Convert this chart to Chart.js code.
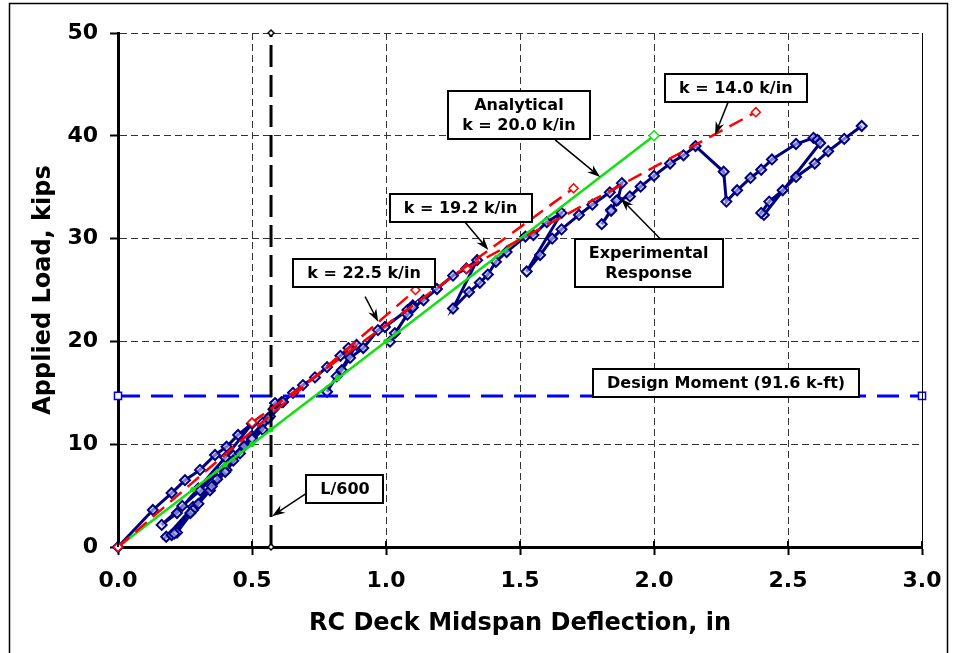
<!DOCTYPE html>
<html>
<head>
<meta charset="utf-8">
<script src="https://cdn.jsdelivr.net/npm/chart.js@4.4.0/dist/chart.umd.min.js"></script>
<style>
  html, body { margin: 0; padding: 0; background: #fff; }
  #wrap { width: 956px; height: 653px; position: relative; }
</style>
</head>
<body>
<div id="wrap"><canvas id="mycanvas"></canvas></div>
<script>
// experimental response (midspan deflection, in / applied load, kips)
var expDeflection = [
    0, 0.13, 0.20, 0.25, 0.306, 0.362, 0.405, 0.448, 0.50,
    0.40, 0.30, 0.22, 0.163,
    0.24, 0.306, 0.37, 0.43, 0.50, 0.54, 0.58,
    0.47, 0.37, 0.28, 0.18,
    0.20, 0.28, 0.343, 0.405, 0.455, 0.50, 0.54, 0.567, 0.61,
    0.50, 0.40, 0.30, 0.22, 0.21,
    0.27, 0.35, 0.43, 0.50, 0.56, 0.586, 0.616, 0.653, 0.69, 0.735, 0.78, 0.83, 0.86, 0.89,
    0.78,
    0.816, 0.835, 0.866, 0.915, 0.97, 0.996, 1.08, 1.10,
    1.015,
    1.033, 1.08, 1.10, 1.14, 1.19, 1.25, 1.30, 1.34,
    1.25,
    1.31, 1.35, 1.38, 1.41, 1.45, 1.52, 1.55, 1.60, 1.655,
    1.525,
    1.575, 1.62, 1.655, 1.72, 1.77, 1.835, 1.88, 1.865, 1.84, 1.805,
    1.84, 1.86, 1.91, 1.95, 2.0, 2.06, 2.11, 2.155,
    2.26, 2.27,
    2.31, 2.36, 2.40, 2.44, 2.53, 2.595, 2.61, 2.62,
    2.41, 2.40,
    2.43, 2.48, 2.53, 2.60, 2.65, 2.71, 2.775
];
var expLoad = [
    0, 3.6, 5.25, 6.5, 7.5, 8.95, 9.75, 10.9, 12.0,
    8.7, 5.7, 3.3, 2.15,
    4.0, 5.5, 7.3, 8.9, 10.8, 12.1, 13.4,
    9.8, 6.6, 3.9, 1.0,
    1.17, 3.6, 5.5, 7.5, 9.1, 10.4, 11.4, 12.7, 14.1,
    10.6, 7.3, 4.2, 1.4, 1.3,
    3.3, 5.9, 8.4, 10.5, 12.5, 14.0, 14.1, 15.0, 15.75, 16.5, 17.5, 18.6, 19.35, 19.65,
    15.1,
    16.6, 17.2, 18.4, 19.35, 21.1, 21.4, 23.05, 23.5,
    19.97,
    20.8, 22.6, 23.3, 24.0, 25.1, 26.4, 27.1, 27.9,
    23.2,
    24.8, 25.7, 26.5, 27.75, 28.7, 30.2, 30.35, 31.6, 32.5,
    26.8,
    28.4, 30.0, 30.9, 32.3, 33.3, 34.5, 35.4, 33.75, 32.8, 31.4,
    32.7, 33.7, 34.1, 35.05, 36.1, 37.3, 38.1, 39.0,
    36.5, 33.6,
    34.7, 35.9, 36.7, 37.7, 39.2, 39.8, 39.6, 39.3,
    32.3, 32.5,
    33.6, 34.7, 36.0, 37.3, 38.5, 39.7, 40.95
];

// analytical stiffness, k = 20.0 k/in
var analyticalDeflection = [0, 0.28, 0.40, 0.50, 0.57, 0.82, 1.0, 2.0];
var analyticalLoad = [0, 5.6, 8.0, 10.0, 11.4, 16.4, 20.0, 40.0];

// measured secant stiffness lines
var k225Deflection = [0, 1.11];
var k225Load = [0, 25.0];
var k192Deflection = [0.50, 1.70];
var k192Load = [12.1, 34.9];
var k140Deflection = [1.30, 2.38];
var k140Load = [27.1, 42.3];

// design moment load and L/600 deflection limit
var designDeflection = [0, 3.0];
var designLoad = [14.7, 14.7];
var limitDeflection = [0.571, 0.571];
var limitLoad = [0, 50];

var xTicks = [0, 0.5, 1.0, 1.5, 2.0, 2.5, 3.0];
var yTicks = [0, 10, 20, 30, 40, 50];

function pairs(xs, ys) {
    var out = [];
    for (var i in xs) {
        out.push({ x: xs[i], y: ys[i] });
    }
    return out;
}

// callout boxes, placed in data units
var notes = [
    { text: ['Analytical', 'k = 20.0 k/in'], at: [1.496, 42.07], from: [1.631, 39.6], to: [1.799, 36.0] },
    { text: ['k = 14.0 k/in'], at: [2.305, 44.65], from: [2.277, 43.3], to: [2.228, 40.1] },
    { text: ['k = 19.2 k/in'], at: [1.278, 32.98], from: [1.295, 31.6], to: [1.382, 28.9] },
    { text: ['k = 22.5 k/in'], at: [0.918, 26.65], from: [0.922, 24.35], to: [0.971, 21.9] },
    { text: ['Experimental', 'Response'], at: [1.98, 27.67], from: [2.022, 30.0], to: [1.876, 33.9] },
    { text: ['Design Moment (91.6 k-ft)'], at: [2.269, 16.0] },
    { text: ['L/600'], at: [0.847, 5.64], from: [0.714, 5.4], to: [0.575, 3.0] }
];

var calloutPlugin = {
    id: 'callouts',
    afterDatasetsDraw: function(chart) {
        var ctx = chart.ctx;
        var xs = chart.scales.x, ys = chart.scales.y;
        var area = chart.chartArea;
        ctx.save();
        // right edge of plot and short inner ticks on the x axis
        ctx.strokeStyle = '#000';
        ctx.lineWidth = 1;
        ctx.beginPath();
        ctx.moveTo(area.right + 0.5, area.top);
        ctx.lineTo(area.right + 0.5, area.bottom);
        ctx.stroke();
        ctx.lineWidth = 2;
        xTicks.forEach(function(v) {
            var px = Math.round(xs.getPixelForValue(v));
            ctx.beginPath();
            ctx.moveTo(px, area.bottom);
            ctx.lineTo(px, area.bottom - 6);
            ctx.stroke();
        });

        ctx.font = 'bold 16px "DejaVu Sans"';
        ctx.textAlign = 'center';
        ctx.textBaseline = 'middle';
        notes.forEach(function(n) {
            if (n.from) {
                var x1 = xs.getPixelForValue(n.from[0]), y1 = ys.getPixelForValue(n.from[1]);
                var x2 = xs.getPixelForValue(n.to[0]), y2 = ys.getPixelForValue(n.to[1]);
                var ang = Math.atan2(y2 - y1, x2 - x1);
                ctx.strokeStyle = '#000';
                ctx.lineWidth = 1.5;
                ctx.beginPath();
                ctx.moveTo(x1, y1);
                ctx.lineTo(x2 - 8 * Math.cos(ang), y2 - 8 * Math.sin(ang));
                ctx.stroke();
                ctx.fillStyle = '#000';
                ctx.beginPath();
                ctx.moveTo(x2, y2);
                ctx.lineTo(x2 - 13 * Math.cos(ang) + 4.5 * Math.sin(ang), y2 - 13 * Math.sin(ang) - 4.5 * Math.cos(ang));
                ctx.lineTo(x2 - 9 * Math.cos(ang), y2 - 9 * Math.sin(ang));
                ctx.lineTo(x2 - 13 * Math.cos(ang) - 4.5 * Math.sin(ang), y2 - 13 * Math.sin(ang) + 4.5 * Math.cos(ang));
                ctx.closePath();
                ctx.fill();
            }
        });
        notes.forEach(function(n) {
            var cx = xs.getPixelForValue(n.at[0]), cy = ys.getPixelForValue(n.at[1]);
            var w = 0;
            n.text.forEach(function(t) { w = Math.max(w, ctx.measureText(t).width); });
            w += 28;
            var h = n.text.length * 20 + 8;
            ctx.fillStyle = '#fff';
            ctx.fillRect(cx - w / 2, cy - h / 2, w, h);
            ctx.strokeStyle = '#000';
            ctx.lineWidth = 2;
            ctx.strokeRect(Math.round(cx - w / 2), Math.round(cy - h / 2), Math.round(w), Math.round(h));
            ctx.fillStyle = '#000';
            n.text.forEach(function(t, i) {
                ctx.fillText(t, cx, cy - (n.text.length - 1) * 10 + i * 20 + 1);
            });
        });
        ctx.restore();
    },
    afterDraw: function(chart) {
        var ctx = chart.ctx;
        ctx.save();
        ctx.strokeStyle = '#000';
        ctx.lineWidth = 1.5;
        ctx.beginPath();
        ctx.moveTo(9.5, 660);
        ctx.lineTo(9.5, 3.5);
        ctx.lineTo(947.5, 3.5);
        ctx.lineTo(947.5, 660);
        ctx.stroke();
        ctx.restore();
    }
};

var red = '#ff0000';
var tickFont = { family: 'DejaVu Sans', weight: 'bold', size: 22 };
var titleFont = { family: 'DejaVu Sans', weight: 'bold', size: 24 };

var chartdata = {
    datasets: [
        {
            label: 'k = 22.5 k/in',
            data: pairs(k225Deflection, k225Load),
            borderColor: red, borderWidth: 2.5, borderDash: [15, 8],
            pointStyle: 'rectRot', pointRadius: 4.5, pointBorderColor: red,
            pointBackgroundColor: '#fff', pointBorderWidth: 1.5
        },
        {
            label: 'k = 19.2 k/in',
            data: pairs(k192Deflection, k192Load),
            borderColor: red, borderWidth: 2.5, borderDash: [15, 8],
            pointStyle: 'rectRot', pointRadius: 4.5, pointBorderColor: red,
            pointBackgroundColor: '#fff', pointBorderWidth: 1.5
        },
        {
            label: 'k = 14.0 k/in',
            data: pairs(k140Deflection, k140Load),
            borderColor: red, borderWidth: 2.5, borderDash: [15, 8],
            pointStyle: 'rectRot', pointRadius: 4.5, pointBorderColor: red,
            pointBackgroundColor: '#fff', pointBorderWidth: 1.5
        },
        {
            label: 'Analytical',
            data: pairs(analyticalDeflection, analyticalLoad),
            borderColor: '#11e011', borderWidth: 2.5,
            pointStyle: ['circle', 'circle', 'circle', 'circle', 'circle', 'circle', 'circle', 'rectRot'],
            pointRadius: [0, 2, 2, 2, 2, 2, 2, 5],
            pointBorderColor: '#11e011', pointBackgroundColor: ['#11e011', '#11e011', '#11e011', '#11e011', '#11e011', '#11e011', '#11e011', '#fff'],
            pointBorderWidth: 1.5
        },
        {
            label: 'L/600',
            data: pairs(limitDeflection, limitLoad),
            borderColor: '#000', borderWidth: 3, borderDash: [22, 8],
            pointStyle: 'rectRot', pointRadius: 3, pointBorderColor: '#000',
            pointBackgroundColor: '#fff', pointBorderWidth: 1.5
        },
        {
            label: 'Design Moment',
            data: pairs(designDeflection, designLoad),
            borderColor: '#0000ff', borderWidth: 3, borderDash: [22, 11],
            pointStyle: 'rect', pointRadius: 5, pointBorderColor: '#0000ff',
            pointBackgroundColor: '#fff', pointBorderWidth: 1.5
        },
        {
            label: 'Experimental Response',
            data: pairs(expDeflection, expLoad),
            borderColor: '#000080', borderWidth: 3,
            pointStyle: 'rectRot', pointRadius: 5, pointBorderColor: '#000080',
            pointBackgroundColor: 'rgba(200,200,255,0.6)', pointBorderWidth: 2
        }
    ]
};
chartdata.datasets.forEach(function(d) {
    d.showLine = true;
    d.tension = 0;
    d.clip = false;
});

var ctx1 = document.getElementById('mycanvas');
var loadGraph = new Chart(ctx1, {
    type: 'scatter',
    data: chartdata,
    plugins: [calloutPlugin],
    options: {
        responsive: true,
        maintainAspectRatio: false,
        animation: false,
        layout: { padding: { left: 0, right: 34, top: 33, bottom: 0 } },
        plugins: {
            legend: { display: false },
            tooltip: { enabled: false }
        },
        scales: {
            x: {
                type: 'linear', min: 0, max: 3,
                afterFit: function(s) { s.height = 106; },
                afterBuildTicks: function(s) { s.ticks = xTicks.map(function(v) { return { value: v }; }); },
                ticks: {
                    color: '#000', font: tickFont, padding: 13, maxRotation: 0,
                    callback: function(v) { return Number(v).toFixed(1); }
                },
                grid: { color: '#333', lineWidth: 1, tickLength: 8, tickColor: '#000', tickWidth: 2 },
                border: { color: '#000', width: 3, dash: [7, 4] },
                title: {
                    display: true, text: 'RC Deck Midspan Deflection, in',
                    color: '#000', font: titleFont, padding: { top: 0, bottom: 15 }
                }
            },
            y: {
                type: 'linear', min: 0, max: 50,
                afterFit: function(s) { s.width = 118; },
                afterBuildTicks: function(s) { s.ticks = yTicks.map(function(v) { return { value: v }; }); },
                ticks: { color: '#000', font: tickFont, padding: 12 },
                grid: { color: '#333', lineWidth: 1, tickLength: 8, tickColor: '#000', tickWidth: 2 },
                border: { color: '#000', width: 3, dash: [7, 4] },
                title: {
                    display: true, text: 'Applied Load, kips',
                    color: '#000', font: titleFont, padding: { top: 29, bottom: 0 }
                }
            }
        }
    }
});
</script>
</body>
</html>
